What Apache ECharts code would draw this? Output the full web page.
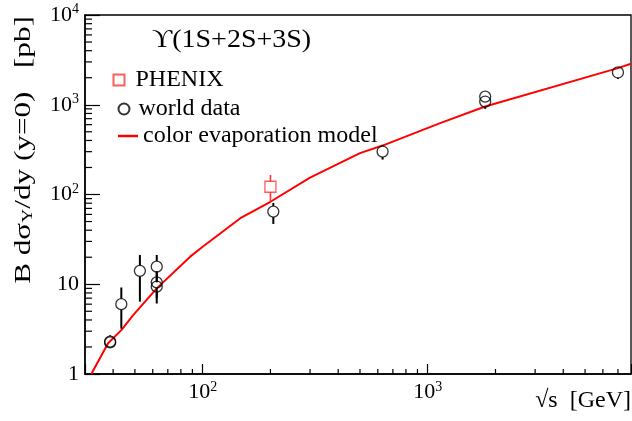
<!DOCTYPE html>
<html><head><meta charset="utf-8">
<script src="https://cdn.jsdelivr.net/npm/echarts@6/dist/echarts.min.js"></script>
<style>html,body{margin:0;padding:0;background:#fff}#c{width:632px;height:421px}</style>
</head><body><div id="c"></div>
<script>
// ---- axis ranges, ticks, labels ----
const xRange = [30, 8000];
const yRange = [1, 10000];
const xMajorTicks = [100, 1000];
const xTickLabels = ['10^2', '10^3'];
const xMinorTicks = [40, 50, 60, 70, 80, 90, 200, 300, 400, 500, 600, 700, 800, 900, 2000, 3000, 4000, 5000, 6000, 7000];
const yMajorTicks = [1, 10, 100, 1000, 10000];
const yTickLabels = ['1', '10', '10^2', '10^3', '10^4'];
const yMinorTicks = [2, 3, 4, 5, 6, 7, 8, 9, 20, 30, 40, 50, 60, 70, 80, 90, 200, 300, 400, 500, 600, 700, 800, 900, 2000, 3000, 4000, 5000, 6000, 7000, 8000, 9000];

// ---- color evaporation model curve ----
const modelX = [32, 38, 43.6, 49, 62.5, 88, 100, 147, 200, 300, 500, 630, 1135, 1800, 7000, 8000];
const modelY = [1.0, 2.2, 3.1, 4.5, 9.0, 20.3, 26.2, 54.4, 83, 154, 289, 351, 624, 955, 2560, 2860];

// ---- world data ----
const worldX    = [38.8, 38.8, 43.5, 52.6, 62.5, 62.5, 62.5, 206, 630, 1800, 1800, 7000];
const worldY    = [2.3, 2.25, 6.0, 14.1, 15.7, 10.5, 9.4, 64.5, 301, 1234, 1086, 2290];
const worldLow  = [2.0, 2.0, 3.2, 6.4, 10.5, 7.0, 6.1, 47, 245, 1100, 900, 1940];
const worldHigh = [2.7, 2.5, 9.2, 21.2, 21.2, 14, 12, 80.5, 357, 1380, 1230, 2600];

// ---- PHENIX ----
const phenixX    = [200];
const phenixY    = [122];
const phenixLow  = [83];
const phenixHigh = [165];

const FONT = 'Liberation Serif, DejaVu Serif, serif';

function toRich(lbl) {
  const i = lbl.indexOf('^');
  if (i < 0) return '{b|' + lbl + '}';
  return '{b|' + lbl.slice(0, i) + '}{s|' + lbl.slice(i + 1) + '}';
}
function fmtFrom(ticks, labels) {
  return function (v) {
    for (let k = 0; k < ticks.length; k++) {
      if (Math.abs(v - ticks[k]) / ticks[k] < 1e-6) return toRich(labels[k]);
    }
    return '';
  };
}
const labelRich = {
  b: { fontSize: 22, fontFamily: FONT, color: '#000' },
  s: { fontSize: 14, fontFamily: FONT, color: '#000', padding: [0, 0, 11, 0] }
};

function errBar(r, color, width) {
  return function (params, api) {
    const x = api.value(0), y = api.value(1), lo = api.value(2), hi = api.value(3);
    const p = api.coord([x, y]);
    const pl = api.coord([x, lo]);
    const ph = api.coord([x, hi]);
    const children = [];
    if (ph[1] < p[1] - r) children.push({ type: 'line', shape: { x1: p[0], y1: ph[1], x2: p[0], y2: p[1] - r }, style: { stroke: color, lineWidth: width } });
    if (pl[1] > p[1] + r) children.push({ type: 'line', shape: { x1: p[0], y1: p[1] + r, x2: p[0], y2: pl[1] }, style: { stroke: color, lineWidth: width } });
    return { type: 'group', children: children };
  };
}
// minor tick marks, positioned through the log scales (same scheme as the error bars)
function tickRender(dx, dy) {
  return function (params, api) {
    const p = api.coord([api.value(0), api.value(1)]);
    return { type: 'group', children: [{ type: 'line', shape: { x1: p[0], y1: p[1], x2: p[0] + dx, y2: p[1] + dy }, style: { stroke: '#000', lineWidth: 1.2 } }] };
  };
}

const legendText = { fontFamily: FONT, fontSize: 24, color: '#000', lineHeight: 24 };

const chart = echarts.init(document.getElementById('c'), null, { renderer: 'canvas' });
chart.setOption({
  animation: false,
  backgroundColor: '#fff',
  grid: { left: 85, right: 1, top: 15, bottom: 47, show: true, borderColor: '#000', borderWidth: 1.3, backgroundColor: 'transparent' },
  legend: [
    { data: ['PHENIX'], left: 107.5, top: 63, itemWidth: 23, itemHeight: 11, itemGap: 0, icon: 'path://M0,0L10,0L10,10L0,10Z', symbolKeepAspect: true, textStyle: legendText },
    { data: ['world data'], left: 112.5, top: 92, itemWidth: 19, itemHeight: 11, itemGap: 0, icon: 'circle', textStyle: legendText },
    { data: ['color evaporation model'], left: 113, top: 119, itemWidth: 20, itemHeight: 2.5, itemGap: 0, icon: 'rect', textStyle: legendText }
  ],
  xAxis: {
    type: 'log', logBase: 10, min: xRange[0], max: xRange[1], position: 'bottom',
    splitLine: { show: false },
    axisLine: { show: true, lineStyle: { color: '#000', width: 1.5 } },
    axisTick: { show: true, inside: true, length: 10, lineStyle: { color: '#000', width: 1.2 } },
    axisLabel: { show: true, customValues: xMajorTicks, margin: 6, formatter: fmtFrom(xMajorTicks, xTickLabels), rich: labelRich }
  },
  yAxis: {
    type: 'log', logBase: 10, min: yRange[0], max: yRange[1], position: 'left',
    splitLine: { show: false },
    axisLine: { show: true, lineStyle: { color: '#000', width: 1.5 } },
    axisTick: { show: true, inside: true, length: 15, lineStyle: { color: '#000', width: 1.2 } },
    axisLabel: { show: true, customValues: yMajorTicks, margin: 6, formatter: fmtFrom(yMajorTicks, yTickLabels), rich: labelRich }
  },
  graphic: [
    {
      type: 'text', x: 152, y: 40, scaleX: 1.12,
      style: { text: 'ϒ(1S+2S+3S)', align: 'left', verticalAlign: 'middle', fontFamily: FONT, fontSize: 25, fill: '#000' }
    },
    {
      type: 'text', x: 24, y: 150, rotation: Math.PI / 2, scaleX: 1.3,
      style: {
        text: '{t|B dσ}{u|Υ}{t|/dy (y=0)   [pb]}',
        align: 'center', verticalAlign: 'middle',
        rich: {
          t: { fontFamily: FONT, fontSize: 24, fill: '#000' },
          u: { fontFamily: FONT, fontSize: 15, fill: '#000', padding: [9, 0, 0, 0] }
        }
      }
    },
    {
      type: 'text', x: 631, y: 413,
      style: { text: '√s  [GeV]', align: 'right', verticalAlign: 'bottom', fontFamily: FONT, fontSize: 24, fill: '#000' }
    }
  ],
  series: [
    {
      name: 'color evaporation model', type: 'line',
      data: modelX.map((x, i) => [x, modelY[i]]),
      showSymbol: false, symbol: 'none', smooth: false, clip: true,
      lineStyle: { color: '#ff0000', width: 2 }, itemStyle: { color: '#ff0000' }, z: 3
    },
    {
      type: 'custom', silent: true, z: 4,
      data: worldX.map((x, i) => [x, worldY[i], worldLow[i], worldHigh[i]]),
      renderItem: errBar(5.5, '#000', 2)
    },
    {
      name: 'world data', type: 'scatter',
      data: worldX.map((x, i) => [x, worldY[i]]),
      symbol: 'circle', symbolSize: 11,
      itemStyle: { color: 'rgba(255,255,255,0)', borderColor: '#000', borderWidth: 1.3 }, z: 5
    },
    {
      type: 'custom', silent: true, z: 4,
      data: phenixX.map((x, i) => [x, phenixY[i], phenixLow[i], phenixHigh[i]]),
      renderItem: errBar(5.5, '#ff3333', 1.6)
    },
    {
      name: 'PHENIX', type: 'scatter',
      data: phenixX.map((x, i) => [x, phenixY[i]]),
      symbol: 'rect', symbolSize: 11,
      itemStyle: { color: 'rgba(255,255,255,0)', borderColor: '#ff3333', borderWidth: 1.3 }, z: 5
    },
    {
      type: 'custom', silent: true, z: 4,
      data: xMinorTicks.map(v => [v, yRange[0], 0, 0]),
      renderItem: tickRender(0, -5)
    },
    {
      type: 'custom', silent: true, z: 4,
      data: yMinorTicks.map(v => [xRange[0], v, 0, 0]),
      renderItem: tickRender(7, 0)
    }
  ]
});
</script>
</body></html>
